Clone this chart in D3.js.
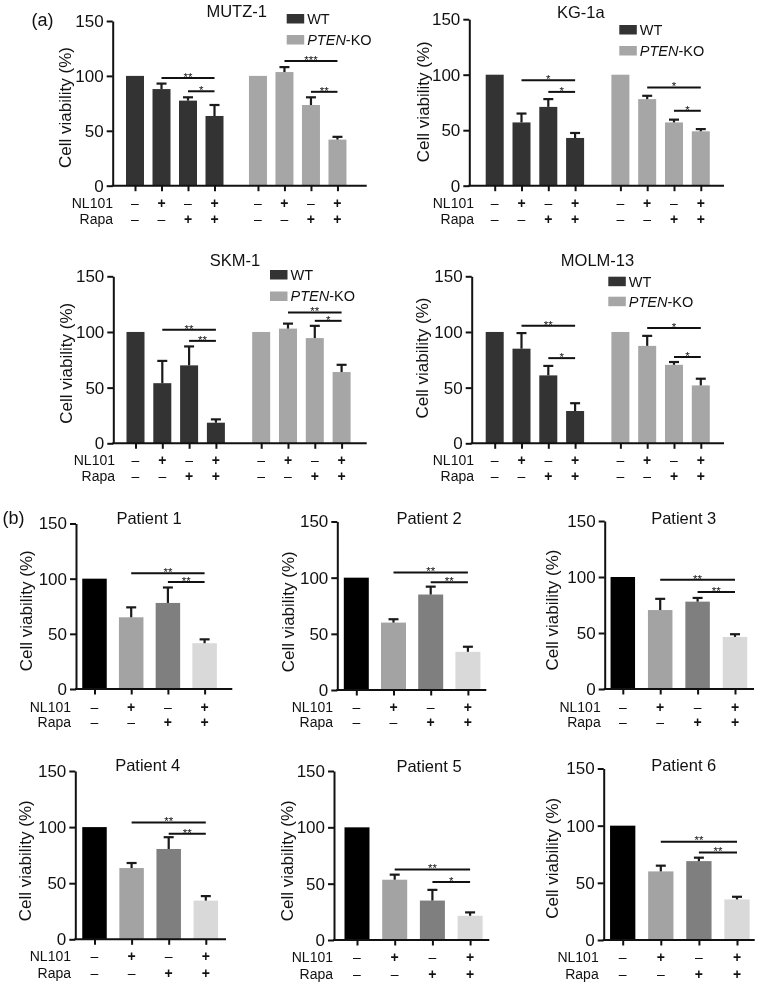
<!DOCTYPE html>
<html><head><meta charset="utf-8">
<script src="https://cdn.jsdelivr.net/npm/d3@7"></script>
<style>
body{margin:0;background:#fff}
svg{display:block;filter:grayscale(1)}
text{font-family:"Liberation Sans",Arial,Helvetica,sans-serif;fill:#111}
</style>
</head><body>
<svg id="chart" width="761" height="984"></svg>
<script>
// ---------------- DATA ----------------
const cellLines = ["MUTZ-1", "KG-1a", "SKM-1", "MOLM-13"];
const genotypes = ["WT", "PTEN-KO"];
const nl101Row = ["–", "+", "–", "+"];
const rapaRow = ["–", "–", "+", "+"];
const rowNames = ["NL101", "Rapa"];
const yTicks = [0, 50, 100, 150];
const yTitle = "Cell viability (%)";

const wtMean = [[100, 88, 77.5, 63.5], [100, 57, 71, 43], [100, 54, 70, 18.5], [100, 85, 61, 29]];
const wtErr  = [[0, 5, 3, 10], [0, 8, 7, 4.5], [0, 20, 17, 3], [0, 14, 8.5, 7]];
const koMean = [[100, 103.5, 73.5, 42], [100, 78, 57, 49], [100, 103, 94.5, 64], [100, 87.5, 70.5, 52]];
const koErr  = [[0, 4.5, 7, 2.5], [0, 3, 2.5, 2], [0, 4.5, 11, 6.5], [0, 9, 2.5, 6]];
// significance: [fromBar, toBar, heightValue, label]
const wtSig = [
  [[1, 3, 98, "**"], [2, 3, 86, "*"]],
  [[1, 3, 95, "*"], [2, 3, 84.5, "*"]],
  [[1, 3, 102, "**"], [2, 3, 92, "**"]],
  [[1, 3, 105.5, "**"], [2, 3, 76.5, "*"]]
];
const koSig = [
  [[1, 3, 113.5, "***"], [2, 3, 85.5, "**"]],
  [[1, 3, 88.5, "*"], [2, 3, 67.5, "*"]],
  [[1, 3, 117.5, "**"], [2, 3, 110, "*"]],
  [[1, 3, 103.5, "*"], [2, 3, 77.5, "*"]]
];

const patients = ["Patient 1", "Patient 2", "Patient 3", "Patient 4", "Patient 5", "Patient 6"];
const patientMean = [
  [100, 65, 78, 41.5],
  [100, 60, 85, 34],
  [100, 70.5, 78, 46.5],
  [100, 63.5, 80.5, 34.5],
  [100, 53.5, 35, 21.5],
  [100, 60, 69, 35.5]
];
const patientErr = [
  [0, 9, 14, 3.5],
  [0, 3, 7, 4.5],
  [0, 10, 3.3, 2.4],
  [0, 4.5, 10.5, 4],
  [0, 4.5, 9.5, 3],
  [0, 5, 3, 2.3]
];
const patientSig = [
  [[1, 3, 105, "**"], [2, 3, 97, "**"]],
  [[1, 3, 104.5, "**"], [2, 3, 96, "**"]],
  [[1, 3, 97.5, "**"], [2, 3, 86.5, "**"]],
  [[1, 3, 104, "**"], [2, 3, 94, "**"]],
  [[1, 3, 62.5, "**"], [2, 3, 51.5, "*"]],
  [[1, 3, 86, "**"], [2, 3, 76.5, "**"]]
];

// ---------------- LAYOUT / STYLE ----------------
const genoColors = ["#333333", "#a6a6a6"];
const patientColors = ["#000000", "#a3a3a6", "#7f7f7f", "#d9d9d9"];
const ink = "#111";

const aLayout = [
  {x0: 112.7, y0: 185.7, yTop: 21,    xEnd: 366.7, c0: 135,   step: 26.5, off: 4.64, bw: 18, title: [236.7, 17.3], leg: [286.7, 14],  legGap: 21, yl: [65.5, 107.5], rowR: 113,   rowY: [203.3, 219.3]},
  {x0: 469.3, y0: 185.7, yTop: 19.2,  xEnd: 724,   c0: 494.7, step: 26.8, off: 4.69, bw: 18, title: [580.8, 18.3], leg: [619.3, 25],  legGap: 21, yl: [423.3, 101.7], rowR: 474,  rowY: [203.3, 219.3]},
  {x0: 113.3, y0: 443.3, yTop: 276.3, xEnd: 366.7, c0: 135.5, step: 26.8, off: 4.69, bw: 18, title: [235, 265.7],  leg: [270, 270],   legGap: 21.5, yl: [65.8, 363.3], rowR: 115,  rowY: [460, 476]},
  {x0: 471.7, y0: 443.3, yTop: 276.3, xEnd: 724,   c0: 494.7, step: 26.8, off: 4.69, bw: 18, title: [597.5, 265.7], leg: [608.3, 276.7], legGap: 20, yl: [421.7, 358], rowR: 474,  rowY: [460, 476]}
];
const bLayout = [
  {x0: 76,    y0: 689,   yTop: 523.5, xEnd: 232.3, c0: 94.5,  step: 36.7, bw: 24.5, title: [149, 523.5],   yl: [25.8, 610.8],  rowR: 71,    rowY: [706.7, 722.3]},
  {x0: 337.3, y0: 690,   yTop: 521.5, xEnd: 486.3, c0: 356.3, step: 37.2, bw: 25,   title: [429, 524],     yl: [287.8, 611.7], rowR: 333,   rowY: [707.3, 722.3]},
  {x0: 604.7, y0: 689,   yTop: 521,   xEnd: 754,   c0: 622.8, step: 37.4, bw: 24.5, title: [683.7, 524],   yl: [551.8, 610],   rowR: 600.7, rowY: [706.7, 721.7]},
  {x0: 75.3,  y0: 939.3, yTop: 771,   xEnd: 226,   c0: 94.5,  step: 37.1, bw: 24.5, title: [147.7, 771],   yl: [25, 860.8],    rowR: 71,    rowY: [956, 973.3]},
  {x0: 334,   y0: 940,   yTop: 771,   xEnd: 489.3, c0: 357,   step: 37.7, bw: 25,   title: [429, 771.7],   yl: [287.3, 860.8], rowR: 333,   rowY: [957, 973.7]},
  {x0: 603.7, y0: 940,   yTop: 768.5, xEnd: 754.7, c0: 622.7, step: 38.1, bw: 25.3, title: [683.7, 771],   yl: [551.8, 858.3], rowR: 598.7, rowY: [957, 973.7]}
];

const svg = d3.select("#chart");

function drawPanel(L, bars, sigs, title) {
  const g = svg.append("g");
  const x = d3.scaleLinear().domain([0, 1]).range([L.c0, L.c0 + L.step]);
  const y = d3.scaleLinear().domain([0, 150]).range([L.y0, L.yTop]);

  // bars
  g.selectAll("rect.bar").data(bars).join("rect")
    .attr("class", "bar")
    .attr("x", d => x(d.pos) - L.bw / 2)
    .attr("width", L.bw)
    .attr("y", d => y(d.value))
    .attr("height", d => y(0) - y(d.value))
    .attr("fill", d => d.color);

  // error bars (upper only)
  const eb = g.selectAll("g.err").data(bars.filter(d => d.err > 0)).join("g").attr("class", "err");
  eb.append("line")
    .attr("x1", d => x(d.pos)).attr("x2", d => x(d.pos))
    .attr("y1", d => y(d.value)).attr("y2", d => y(d.value + d.err))
    .attr("stroke", "#1a1a1a").attr("stroke-width", 2.2);
  eb.append("line")
    .attr("x1", d => x(d.pos) - 5).attr("x2", d => x(d.pos) + 5)
    .attr("y1", d => y(d.value + d.err)).attr("y2", d => y(d.value + d.err))
    .attr("stroke", "#1a1a1a").attr("stroke-width", 2.2);

  // y axis
  const ya = g.append("g").attr("transform", `translate(${L.x0},0)`)
    .call(d3.axisLeft(y).tickValues(yTicks).tickSize(6).tickSizeOuter(0).tickPadding(3));
  ya.select(".domain").attr("stroke", ink).attr("stroke-width", 2);
  ya.selectAll(".tick line").attr("stroke", ink).attr("stroke-width", 2);
  ya.selectAll(".tick text").attr("font-size", 17).attr("fill", ink)
    .style("font-family", '"Liberation Sans",Arial,sans-serif');

  // x axis line + ticks
  g.append("line").attr("x1", L.x0 - 1).attr("x2", L.xEnd)
    .attr("y1", L.y0).attr("y2", L.y0).attr("stroke", ink).attr("stroke-width", 2);
  const xa = g.append("g").attr("transform", `translate(0,${L.y0})`)
    .call(d3.axisBottom(x).tickValues(bars.map(d => d.pos)).tickSize(5.5).tickFormat(""));
  xa.select(".domain").remove();
  xa.selectAll(".tick line").attr("stroke", ink).attr("stroke-width", 2);

  // y title
  g.append("text")
    .attr("transform", `translate(${L.yl[0]},${L.yl[1]}) rotate(-90)`)
    .attr("text-anchor", "middle").attr("dy", "0.35em")
    .attr("font-size", 17).text(yTitle);

  // chart title
  g.append("text").attr("x", L.title[0]).attr("y", L.title[1])
    .attr("text-anchor", "middle").attr("font-size", 16.5).text(title);

  // row labels
  [nl101Row, rapaRow].forEach((row, r) => {
    g.append("text").attr("x", L.rowR).attr("y", L.rowY[r] + 5)
      .attr("text-anchor", "end").attr("font-size", 14).text(rowNames[r]);
    g.selectAll(null).data(bars).join("text")
      .attr("x", d => x(d.pos)).attr("y", L.rowY[r] + 5)
      .attr("text-anchor", "middle").attr("font-size", 14)
      .attr("font-weight", (d) => row[d.idx] === "+" ? "bold" : "normal")
      .attr("fill", d => row[d.idx] === "+" ? "#111" : "#555")
      .text(d => row[d.idx]);
  });

  // significance
  const sg = g.selectAll("g.sig").data(sigs).join("g").attr("class", "sig");
  sg.append("line")
    .attr("x1", d => x(d.from)).attr("x2", d => x(d.to))
    .attr("y1", d => y(d.h)).attr("y2", d => y(d.h))
    .attr("stroke", ink).attr("stroke-width", 2);
  sg.append("text")
    .attr("x", d => (x(d.from) + x(d.to)) / 2).attr("y", d => y(d.h) + 2.8)
    .attr("text-anchor", "middle").attr("font-size", 11.5).attr("fill", "#222")
    .text(d => d.label);
  return g;
}

// ---------- panel (a) ----------
cellLines.forEach((name, i) => {
  const L = aLayout[i];
  const bars = [];
  wtMean[i].forEach((v, j) => bars.push({pos: j, idx: j, value: v, err: wtErr[i][j], color: genoColors[0]}));
  koMean[i].forEach((v, j) => bars.push({pos: L.off + j, idx: j, value: v, err: koErr[i][j], color: genoColors[1]}));
  const sigs = [];
  wtSig[i].forEach(s => sigs.push({from: s[0], to: s[1], h: s[2], label: s[3]}));
  koSig[i].forEach(s => sigs.push({from: L.off + s[0], to: L.off + s[1], h: s[2], label: s[3]}));
  const g = drawPanel(L, bars, sigs, name);

  // legend
  genotypes.forEach((gname, k) => {
    const ly = L.leg[1] + k * L.legGap;
    g.append("rect").attr("x", L.leg[0]).attr("y", ly).attr("width", 17.5).attr("height", 9.5)
      .attr("fill", genoColors[k]);
    const t = g.append("text").attr("x", L.leg[0] + 20.5).attr("y", ly + 4.75 + 5.2).attr("font-size", 14.5);
    if (gname.indexOf("-") > 0) {
      const parts = gname.split("-");
      t.append("tspan").attr("font-style", "italic").text(parts[0]);
      t.append("tspan").text("-" + parts[1]);
    } else t.text(gname);
  });
});

// ---------- panel (b) ----------
patients.forEach((name, i) => {
  const L = bLayout[i];
  const bars = patientMean[i].map((v, j) => ({pos: j, idx: j, value: v, err: patientErr[i][j], color: patientColors[j]}));
  const sigs = patientSig[i].map(s => ({from: s[0], to: s[1], h: s[2], label: s[3]}));
  drawPanel(L, bars, sigs, name);
});

// panel letters
svg.append("text").attr("x", 31.5).attr("y", 26).attr("font-size", 18).text("(a)");
svg.append("text").attr("x", 2.5).attr("y", 524).attr("font-size", 18).text("(b)");
</script>
</body></html>
